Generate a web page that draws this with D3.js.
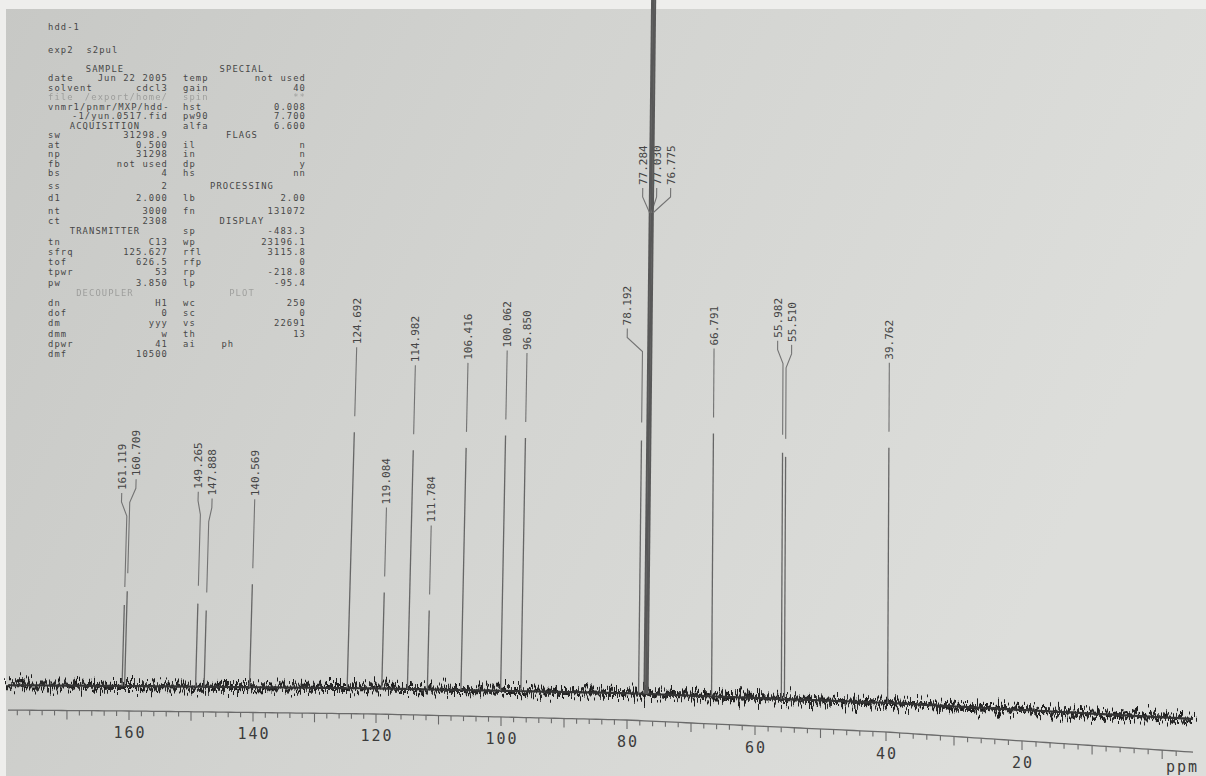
<!DOCTYPE html>
<html lang="en">
<head>
<meta charset="UTF-8" />
<title>hdd-1 13C NMR</title>
<script src="https://cdn.jsdelivr.net/npm/d3@7"></script>
<style>
  body { margin: 0; background: #fff; }
  svg { display: block; }
  text { font-family: "DejaVu Sans Mono", monospace; white-space: pre; }
</style>
</head>
<body>
<svg id="svg"></svg>
<script>
  // peak list
  const peakPpm = [161.119, 160.709, 149.265, 147.888, 140.569, 124.692, 119.084, 114.982, 111.784,
    106.416, 100.062, 96.850, 78.192, 77.284, 77.030, 76.775, 66.791, 55.982, 55.510, 39.762];
  const peakLabels = ["161.119", "160.709", "149.265", "147.888", "140.569", "124.692", "119.084", "114.982", "111.784",
    "106.416", "100.062", "96.850", "78.192", "77.284", "77.030", "76.775", "66.791", "55.982", "55.510", "39.762"];
  // peak height, % of the full vertical scale (solvent triplet runs off the top)
  const peakHeight = [11.8, 13.8, 12.1, 11.1, 15.0, 37.3, 14.0, 34.8, 11.5,
    35.3, 37.2, 36.9, 36.9, 180, 200, 180, 38.3, 35.9, 35.3, 37.2];

  const axisPpm = [179.5, 160, 140, 120, 100, 80, 60, 40, 20, -4.4];
  const axisLabels = [160, 140, 120, 100, 80, 60, 40, 20];

  // parameter block: [label, value, label, value]; "#" = section header, "~" = faint line
  const paramRows = [
    ["#SAMPLE", "", "#SPECIAL", ""],
    ["date", "Jun 22 2005", "temp", "not used"],
    ["solvent", "cdcl3", "gain", "40"],
    ["~file", "/export/home/", "~spin", "**"],
    ["vnmr1/pnmr/MXP/hdd-", "", "hst", "0.008"],
    ["", "-1/yun.0517.fid", "pw90", "7.700"],
    ["#ACQUISITION", "", "alfa", "6.600"],
    ["sw", "31298.9", "#FLAGS", ""],
    ["at", "0.500", "il", "n"],
    ["np", "31298", "in", "n"],
    ["fb", "not used", "dp", "y"],
    ["bs", "4", "hs", "nn"],
    ["ss", "2", "#PROCESSING", ""],
    ["d1", "2.000", "lb", "2.00"],
    ["nt", "3000", "fn", "131072"],
    ["ct", "2308", "#DISPLAY", ""],
    ["#TRANSMITTER", "", "sp", "-483.3"],
    ["tn", "C13", "wp", "23196.1"],
    ["sfrq", "125.627", "rfl", "3115.8"],
    ["tof", "626.5", "rfp", "0"],
    ["tpwr", "53", "rp", "-218.8"],
    ["pw", "3.850", "lp", "-95.4"],
    ["#~DECOUPLER", "", "#~PLOT", ""],
    ["dn", "H1", "wc", "250"],
    ["dof", "0", "sc", "0"],
    ["dm", "yyy", "vs", "22691"],
    ["dmm", "w", "th", "13"],
    ["dpwr", "41", "ai    ph", ""],
    ["dmf", "10500", "", ""],
  ];

  const width = 1206;
  const height = 776;
  const svg = d3.select("#svg").attr("width", width).attr("height", height);
  const defs = svg.append("defs");

  // paper background (photo of a printout)
  const grad = defs.append("linearGradient").attr("id", "paper").attr("x1", 0).attr("x2", 1).attr("y1", 0).attr("y2", 0.3);
  grad.append("stop").attr("offset", "0%").attr("stop-color", "#c7c8c5");
  grad.append("stop").attr("offset", "45%").attr("stop-color", "#d2d3d0");
  grad.append("stop").attr("offset", "100%").attr("stop-color", "#dddedb");
  svg.append("rect").attr("width", width).attr("height", height).attr("fill", "url(#paper)");
  svg.append("rect").attr("width", width).attr("height", 9).attr("fill", "#eeeeec");
  svg.append("rect").attr("width", 6).attr("height", height).attr("fill", "#eeeeec");

  // texture filters for the noisy baseline
  [[11, 34], [4, 22]].forEach(([seed, amp], i) => {
    const f = defs.append("filter").attr("id", "noise" + i).attr("filterUnits", "userSpaceOnUse")
      .attr("x", 0).attr("y", 600).attr("width", width).attr("height", 176);
    f.append("feTurbulence").attr("type", "fractalNoise").attr("baseFrequency", "0.7 0.03")
      .attr("numOctaves", 2).attr("seed", seed).attr("result", "t");
    f.append("feDisplacementMap").attr("in", "SourceGraphic").attr("in2", "t")
      .attr("scale", amp).attr("xChannelSelector", "R").attr("yChannelSelector", "G");
  });

  // ppm scale (paper photographed slightly in perspective)
  const x = d3.scaleLinear().domain(axisPpm)
    .range([8, 129, 253, 376, 501, 627, 755, 886, 1022, 1193]);
  const sag = d3.scaleLinear().domain([0, 129, 376, 627, 886, 1206]).range([-1, 0, 3, 9, 21, 42]);
  const axisY = (px) => 711 + sag(px);
  const baseY = (px) => 686 + 0.8 * sag(px);
  const hScale = d3.scaleLinear().domain([0, 100]).range([0, 686]);
  const lean = d3.scaleLinear().domain([350, 750]).range([0.028, 0.005]).clamp(true);

  // axis
  const tickVals = d3.range(178, -4, -2);
  const xAxis = d3.axisBottom(x).tickValues(tickVals).tickSize(0)
    .tickFormat((d) => (axisLabels.includes(d) ? d : ""));
  const gAxis = svg.append("g").call(xAxis);
  gAxis.select(".domain")
    .attr("d", d3.line()(d3.range(8, 1193, 6).concat(1193).map((px) => [px, axisY(px)])))
    .attr("stroke", "#6a6a6a").attr("stroke-width", 1.3).attr("fill", "none");
  gAxis.selectAll(".tick").attr("transform", (d) => `translate(${x(d)},${axisY(x(d))})`);
  gAxis.selectAll(".tick line").attr("y2", (d) => (d % 10 === 0 ? 9 : 5))
    .attr("stroke", "#6a6a6a").attr("stroke-width", 1.1);
  gAxis.selectAll(".tick text").attr("y", 16).attr("dx", 1)
    .attr("font-family", "DejaVu Sans Mono").attr("font-size", 15).attr("letter-spacing", 2)
    .attr("fill", "#3c3c3c");
  svg.append("text").attr("x", 1166).attr("y", 772).attr("font-size", 15).attr("letter-spacing", 2)
    .attr("fill", "#3c3c3c").text("ppm");

  // baseline with noise texture
  const basePts = d3.range(8, 1193, 3).concat(1193).map((px) => [px, baseY(px)]);
  const baseLine = d3.line()(basePts);
  svg.append("path").attr("d", baseLine).attr("fill", "none")
    .attr("stroke", "#1f1f1f").attr("stroke-width", 4).attr("filter", "url(#noise0)");
  svg.append("path").attr("d", baseLine).attr("fill", "none")
    .attr("stroke", "#2a2a2a").attr("stroke-width", 4).attr("filter", "url(#noise1)");
  svg.append("path").attr("d", baseLine).attr("fill", "none")
    .attr("stroke", "#333").attr("stroke-width", 2.2);

  // peaks
  const peaks = peakPpm.map((p, i) => {
    const px = x(p);
    const base = baseY(px);
    const h = hScale(peakHeight[i]);
    return { ppm: p, label: peakLabels[i], x: px, base, h, top: base - h, lean: lean(px) };
  });
  const P = (d, px, py) => [px + d.lean * (d.base - py), py];

  // spread crowded labels (printer style)
  const minGap = 14;
  let groups = peaks.slice().sort((a, b) => a.x - b.x).map((d) => ({ items: [d], c: d.x }));
  let merged = true;
  while (merged) {
    merged = false;
    for (let i = 0; i < groups.length - 1; i++) {
      const a = groups[i], b = groups[i + 1];
      const aEnd = a.c + (a.items.length - 1) * minGap / 2;
      const bStart = b.c - (b.items.length - 1) * minGap / 2;
      if (bStart - aEnd < minGap) {
        const items = a.items.concat(b.items);
        groups.splice(i, 2, { items, c: d3.mean(items, (d) => d.x) });
        merged = true;
        break;
      }
    }
  }
  groups.forEach((g) => g.items.forEach((d, k) => {
    d.lx = g.c + (k - (g.items.length - 1) / 2) * minGap;
    d.shifted = g.items.length > 1;
  }));

  const gPeaks = svg.append("g");
  peaks.forEach((d) => {
    gPeaks.append("line")
      .attr("x1", d.x).attr("y1", d.base)
      .attr("x2", P(d, d.x, d.top)[0]).attr("y2", d.top)
      .attr("stroke", d.h > 600 ? "#585858" : "#666")
      .attr("stroke-width", d.h > 600 ? 2 : 1.3);

    const offScale = d.top < 200;
    const yt = offScale ? 185 : d.top - (d.shifted ? 115 : 88);
    let pts;
    if (offScale) pts = [[d.lx, yt + 3], [d.lx, yt + 12], [d.x, yt + 28]];
    else if (d.shifted) pts = [[d.lx, yt + 3], [d.lx, yt + 12], [d.x, yt + 26], [d.x, d.top - 18]];
    else pts = [[d.x, yt + 3], [d.x, d.top - 16]];
    gPeaks.append("path").attr("d", d3.line()(pts.map((p) => P(d, p[0], p[1]))))
      .attr("fill", "none").attr("stroke", "#737373").attr("stroke-width", 1.1);

    const t = P(d, d.lx, yt);
    gPeaks.append("text")
      .attr("transform", `translate(${t[0]},${t[1]}) rotate(-90)`)
      .attr("dy", "0.35em").attr("font-size", 11).attr("fill", "#454545")
      .text(d.label);
  });

  // acquisition parameter block
  const rowY = d3.scaleLinear().domain([0, 11, 14, 28]).range([72, 176, 214, 357]);
  const gPar = svg.append("g").attr("font-size", 8.8).attr("letter-spacing", 1.1).attr("fill", "#474747");
  gPar.append("text").attr("x", 48).attr("y", 30).text("hdd-1");
  gPar.append("text").attr("x", 48).attr("y", 53).text("exp2  s2pul");
  const cols = [{ x0: 48, x1: 168, mid: 105 }, { x0: 183, x1: 306, mid: 242 }];
  paramRows.forEach((row, i) => {
    const y = rowY(i);
    [0, 1].forEach((c) => {
      let lab = row[c * 2];
      const val = row[c * 2 + 1];
      const col = cols[c];
      if (!lab && !val) return;
      let faint = false;
      if (lab.startsWith("#")) {
        lab = lab.slice(1);
        if (lab.startsWith("~")) { lab = lab.slice(1); faint = true; }
        gPar.append("text").attr("x", col.mid).attr("y", y).attr("text-anchor", "middle")
          .attr("opacity", faint ? 0.35 : 1).text(lab);
        return;
      }
      if (lab.startsWith("~")) { lab = lab.slice(1); faint = true; }
      if (lab) gPar.append("text").attr("x", col.x0).attr("y", y).attr("opacity", faint ? 0.35 : 1).text(lab);
      if (val) gPar.append("text").attr("x", col.x1).attr("y", y).attr("text-anchor", "end")
        .attr("opacity", faint ? 0.35 : 1).text(val);
    });
  });
</script>
</body>
</html>
